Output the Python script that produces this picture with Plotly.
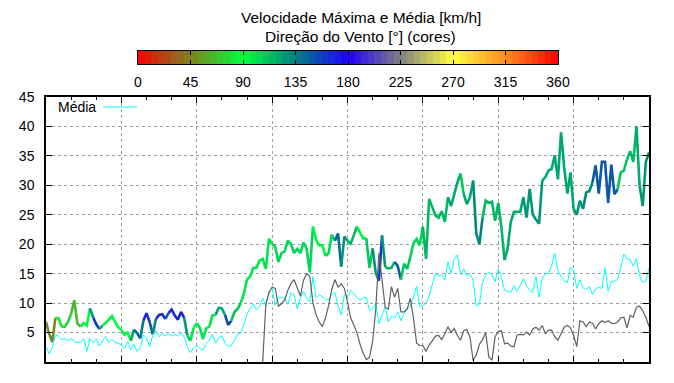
import plotly.graph_objects as go

# time axis in hours (8 days)
horas = list(range(193))

vel_max = [
    6.8, 4.8, 3.4, 7.5, 7.4, 6.0, 6.0, 6.8, 8.2, 10.5,
    6.5, 6.0, 6.6, 6.2, 9.1, 7.6, 6.4, 5.6, 6.2, 6.6,
    7.2, 7.8, 6.8, 5.9, 5.5, 4.6, 5.0, 3.6, 5.5, 4.9,
    4.0, 7.0, 8.3, 6.8, 4.7, 7.3, 8.0, 8.1, 7.3, 8.3,
    8.9, 7.9, 7.2, 8.5, 7.5, 4.5, 3.6, 5.8, 6.6, 5.8,
    3.9, 5.7, 6.0, 7.9, 8.0, 9.2, 9.1, 8.0, 6.3, 7.0,
    8.5, 9.0, 10.0, 11.6, 14.0, 14.5, 16.0, 16.0, 17.2, 17.5,
    15.8, 20.9, 20.1, 19.5, 17.0, 18.5, 18.8, 20.6, 20.0, 18.5,
    19.2, 18.5, 20.3, 19.2, 15.2, 23.0, 20.8, 19.8, 19.8, 18.0,
    18.5, 21.6, 20.6, 21.8, 16.2, 21.3, 20.6, 20.1, 21.5, 23.0,
    22.1, 21.0, 21.0, 16.0, 19.3, 15.1, 13.8, 21.5, 16.1, 15.9,
    16.0, 17.0, 16.3, 14.0, 16.7, 15.8, 17.8, 20.2, 20.9, 19.8,
    23.0, 17.5, 27.7, 26.3, 24.9, 24.5, 25.6, 23.8, 28.0, 26.5,
    28.5, 30.5, 32.0, 28.5, 26.8, 28.0, 30.8, 21.8, 20.0, 24.5,
    27.4, 27.0, 27.2, 24.0, 27.0, 22.9, 17.3, 19.3, 23.8, 25.5,
    25.5, 25.5, 28.0, 24.5, 29.4, 25.0, 24.2, 23.5, 30.8, 31.4,
    32.5, 32.8, 35.1, 31.0, 39.0, 33.0, 28.6, 32.2, 26.0, 25.0,
    27.4, 26.0, 28.8, 29.0, 30.5, 33.4, 28.6, 34.0, 34.0, 27.0,
    33.5, 28.5, 29.3, 32.2, 32.5, 34.4, 35.8, 34.0, 40.0, 30.0,
    26.5, 34.0, 35.6,
]

direcao = [
    50, 50, 50, 80, 80, 75, 75, 75, 65, 65,
    65, 90, 90, 90, 125, 160, 160, 120, 95, 95,
    95, 90, 90, 90, 85, 85, 85, 120, 145, 150,
    140, 165, 165, 150, 130, 165, 165, 165, 150, 165,
    165, 165, 165, 165, 125, 110, 100, 90, 97, 97,
    97, 97, 97, 97, 122, 122, 122, 155, 155, 110,
    110, 110, 100, 100, 100, 100, 100, 100, 100, 100,
    100, 100, 105, 105, 105, 105, 105, 105, 105, 105,
    105, 105, 105, 105, 105, 92, 92, 92, 92, 105,
    105, 105, 142, 142, 128, 128, 115, 115, 115, 92,
    92, 92, 110, 110, 128, 128, 160, 128, 115, 115,
    115, 148, 148, 110, 110, 110, 105, 105, 105, 105,
    118, 118, 117, 117, 117, 117, 117, 117, 120, 120,
    120, 120, 108, 122, 122, 122, 132, 132, 132, 118,
    118, 118, 118, 118, 118, 118, 120, 120, 120, 120,
    120, 120, 126, 126, 126, 126, 126, 126, 122, 122,
    122, 122, 122, 122, 122, 122, 122, 122, 126, 126,
    126, 130, 130, 130, 148, 148, 148, 148, 148, 148,
    148, 148, 112, 112, 112, 118, 118, 118, 120, 125,
    125, 125, 125,
]

vel_media = [
    2.6, 1.4, 2.5, 4.6, 4.4, 3.8, 4.0, 3.6, 4.0, 3.5,
    3.3, 3.3, 4.0, 1.8, 4.0, 3.3, 3.9, 2.7, 3.6, 4.3,
    3.3, 3.8, 3.4, 3.2, 2.9, 2.3, 3.5, 2.1, 3.0, 1.8,
    2.4, 4.6, 4.1, 2.6, 4.6, 5.3, 4.3, 4.8, 4.4, 4.8,
    4.4, 4.7, 4.4, 5.0, 4.2, 2.5, 1.6, 2.4, 2.9, 2.3,
    2.0, 3.1, 3.7, 4.7, 3.2, 4.1, 4.5, 3.2, 2.6, 2.8,
    3.6, 4.8, 4.9, 6.3, 8.1, 9.2, 9.8, 8.9, 9.4, 10.8,
    9.6, 12.0, 12.6, 9.6, 11.0, 11.0, 10.8, 9.8, 11.8, 11.4,
    9.0, 10.9, 12.0, 10.8, 10.2, 14.5, 10.9, 11.4, 11.1, 10.6,
    10.6, 11.5, 11.8, 9.5, 8.0, 11.5, 11.0, 12.2, 11.5, 11.0,
    10.5, 10.9, 11.0, 8.8, 8.9, 10.0, 6.5, 7.8, 9.4, 6.8,
    7.8, 7.5, 8.5, 7.0, 8.2, 9.0, 9.4, 11.0, 12.9, 9.4,
    9.5, 10.0, 11.2, 13.2, 15.0, 14.6, 14.8, 13.9, 17.0, 15.1,
    17.5, 18.2, 14.8, 15.8, 14.6, 15.0, 13.9, 9.5, 9.8, 13.5,
    14.8, 15.3, 14.8, 13.6, 15.8, 14.4, 12.2, 12.0, 11.8, 13.0,
    12.0, 13.0, 14.2, 13.0, 12.2, 11.8, 14.5, 11.0, 14.2, 15.0,
    15.0, 16.4, 18.5, 15.5, 14.5, 13.8, 13.5, 16.1, 15.5, 12.5,
    14.0, 12.6, 12.3, 12.8, 11.5, 12.4, 12.7, 12.5, 16.0, 12.0,
    13.6, 13.7, 14.0, 16.0, 18.3, 17.5, 17.4, 16.3, 17.5, 14.6,
    13.5, 13.8, 16.0,
]

# grey series (starts at hour 69)
horas_cinza = list(range(69, 193))
serie_cinza = [
    0.0, 9.8, 11.8, 12.7, 12.5, 9.5, 9.9, 10.5, 12.2, 13.3, 14.0,
    12.5, 11.2, 13.9, 15.0, 14.6, 10.0, 8.0, 6.8, 6.0, 7.5,
    9.6, 12.4, 14.0, 12.7, 13.3, 12.5, 10.2, 7.5, 6.3, 5.0,
    3.0, 1.5, 0.4, 0.8, 3.5, 9.0, 18.5, 13.5, 9.3, 9.0,
    12.8, 11.0, 12.5, 8.5, 8.5, 9.0, 10.8, 7.5, 3.2, 2.8,
    2.8, 1.8, 2.9, 3.6, 4.4, 4.5, 3.8, 4.8, 6.0, 5.0,
    5.7, 4.5, 3.7, 5.3, 5.5, 4.2, 0.3, 1.2, 3.0, 3.8,
    5.0, 0.8, 0.3, 4.3, 5.2, 5.3, 3.1, 3.2, 2.7, 2.6,
    4.6, 4.7, 4.6, 5.1, 4.6, 5.6, 5.9, 5.4, 6.2, 4.8,
    5.4, 5.4, 4.3, 3.7, 4.8, 5.9, 6.2, 5.8, 4.5, 2.6,
    7.0, 6.8, 6.0, 6.8, 6.6, 5.6, 6.5, 7.0, 6.7, 7.0,
    6.6, 6.5, 6.8, 7.5, 7.6, 5.8, 7.9, 7.6, 9.3, 9.5,
    8.7, 7.6, 6.0,
]

# palette (direction in degrees -> colour)
paleta = [
    (0, (255, 0, 0)), (22.5, (178, 70, 24)), (45, (128, 128, 32)),
    (90, (0, 255, 64)), (135, (0, 128, 128)), (180, (32, 0, 255)),
    (225, (128, 128, 128)), (270, (255, 255, 64)), (315, (255, 140, 32)),
    (360, (255, 0, 0)),
]
NIVEIS = 64
PASSO = 360.0 / NIVEIS


def cor(v):
    lvl = min(int(v // PASSO), NIVEIS - 1)
    c = (lvl + 0.5) * PASSO
    for (a, ca), (b, cb) in zip(paleta[:-1], paleta[1:]):
        if a <= c <= b:
            t = (c - a) / (b - a)
            r = [round(ca[i] + t * (cb[i] - ca[i])) for i in range(3)]
            return "rgb(%d,%d,%d)" % tuple(r)
    return "rgb(255,0,0)"


escala = [[p / 360.0, "rgb(%d,%d,%d)" % c] for p, c in paleta]

fig = go.Figure()

# max speed coloured by direction: group consecutive segments with same colour
i = 0
n = len(horas)
while i < n - 1:
    c = cor(direcao[i])
    j = i
    while j + 1 < n - 1 and cor(direcao[j + 1]) == c:
        j += 1
    fig.add_trace(go.Scatter(
        x=horas[i:j + 2], y=vel_max[i:j + 2], mode="lines",
        line=dict(color=c, width=2.6), showlegend=False, hoverinfo="skip"))
    i = j + 1

fig.add_trace(go.Scatter(x=horas, y=vel_media, mode="lines",
                         line=dict(color="#00ffff", width=1), showlegend=False))
fig.add_trace(go.Scatter(x=horas_cinza, y=serie_cinza, mode="lines",
                         line=dict(color="#606060", width=1.2), showlegend=False))

# colour bar drawn as a heatmap
centros = [(k + 0.5) * PASSO for k in range(NIVEIS)]
fig.add_trace(go.Heatmap(x=centros, y=[0], z=[centros], colorscale=escala,
                         zmin=0, zmax=360, showscale=False, xaxis="x2", yaxis="y2",
                         hoverinfo="skip"))

FONTE = "Liberation Sans"
W, H = 674, 383
ML, MR, MT, MB = 46, 25, 40, 21
PW = W - ML - MR
PH = H - MT - MB


def px_x(p):
    return (p - ML) / PW


def px_y(p):
    return (H - MB - p) / PH


def rotulo(texto, x, y, xanchor="center", size=14):
    return dict(text=texto, x=px_x(x), y=px_y(y), xanchor=xanchor, yanchor="middle",
                xref="paper", yref="paper", showarrow=False, font=dict(size=size))


fig.update_layout(
    width=W, height=H,
    margin=dict(l=ML, r=MR, t=MT, b=MB, autoexpand=False),
    paper_bgcolor="white", plot_bgcolor="white",
    font=dict(family=FONTE, size=14, color="black"),
    showlegend=False,
    xaxis=dict(
        range=[0, 192], domain=[0, 1], tickvals=list(range(0, 193, 24)),
        showticklabels=False, ticks="inside", ticklen=6, tickcolor="black",
        showgrid=True, gridcolor="#a0a0a0", griddash="dot", gridwidth=1,
        minor=dict(dtick=8, tick0=0, ticks="inside", ticklen=3, tickcolor="black", showgrid=False),
        showline=True, linecolor="black", linewidth=1.5, mirror="allticks", zeroline=False,
        automargin=False,
    ),
    yaxis=dict(
        range=[0, 45], domain=[0, px_y(97)], tickvals=list(range(5, 46, 5)),
        ticks="inside", ticklen=6, tickcolor="black",
        showgrid=True, gridcolor="#a0a0a0", griddash="dot", gridwidth=1,
        showline=True, linecolor="black", linewidth=1.5, mirror="allticks", zeroline=False,
        ticklabelstandoff=7, automargin=False,
    ),
    xaxis2=dict(
        domain=[px_x(138), px_x(558)], anchor="y2", range=[0, 360],
        tickvals=list(range(0, 361, 45)), ticks="inside", ticklen=4, tickcolor="black",
        showline=True, linecolor="black", linewidth=1, mirror="allticks",
        showgrid=False, zeroline=False, ticklabelstandoff=5, automargin=False,
    ),
    yaxis2=dict(
        domain=[px_y(64), px_y(51)], anchor="x2", range=[-0.5, 0.5],
        showticklabels=False, ticks="", showline=True, linecolor="black", linewidth=1,
        mirror=True, showgrid=False, zeroline=False, automargin=False,
    ),
    annotations=[
        rotulo("Velocidade Máxima e Média [km/h]", 360.5, 18, size=15.5),
        rotulo("Direção do Vento [°] (cores)", 360.5, 37, size=15.5),
        rotulo("Média", 56, 107, "left"),
    ],
    shapes=[
        dict(type="line", xref="paper", yref="paper", x0=px_x(103), x1=px_x(137),
             y0=px_y(107), y1=px_y(107), line=dict(color="#00ffff", width=1)),
    ],
)

fig.write_html("out.html", config={"displayModeBar": False},
               post_script="document.body.style.margin='0px';")
